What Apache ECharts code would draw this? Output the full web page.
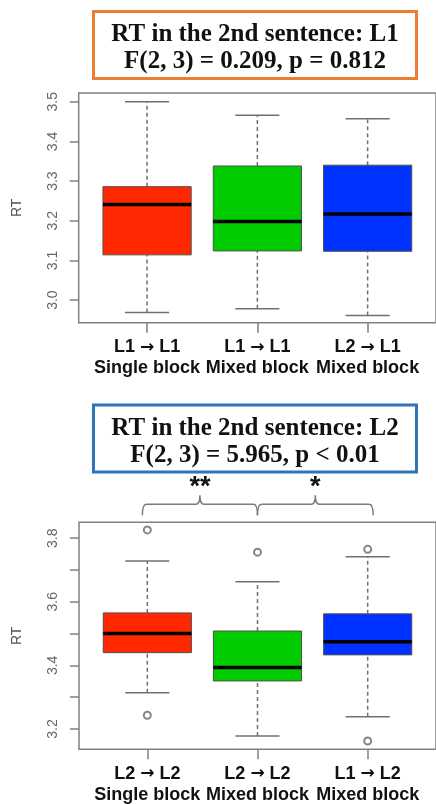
<!DOCTYPE html>
<html><head><meta charset="utf-8">
<script src="https://cdn.jsdelivr.net/npm/echarts@6/dist/echarts.min.js"></script>
<style>html,body{margin:0;padding:0;background:#fff}#c{width:436px;height:804px}</style>
</head><body><div id="c"></div>
<script>
// ---- data ----
const topFrom = ["L1", "L1", "L2"];
const topTo = ["L1", "L1", "L1"];
const botFrom = ["L2", "L2", "L1"];
const botTo = ["L2", "L2", "L2"];
const blocks = ["Single block", "Mixed block", "Mixed block"];
// [min whisker, Q1, median, Q3, max whisker]
const topBoxes = [
  [2.969, 3.114, 3.241, 3.286, 3.500],
  [2.978, 3.124, 3.198, 3.338, 3.466],
  [2.961, 3.123, 3.217, 3.340, 3.457]
];
const botBoxes = [
  [3.314, 3.440, 3.500, 3.565, 3.728],
  [3.178, 3.351, 3.393, 3.508, 3.663],
  [3.238, 3.433, 3.474, 3.562, 3.742]
];
const botOutliers = [[1, 3.826], [1, 3.243], [2, 3.756], [3, 3.765], [3, 3.162]];
const topTicks = [3.0, 3.1, 3.2, 3.3, 3.4, 3.5];
const botTicks = [3.2, 3.3, 3.4, 3.5, 3.6, 3.7, 3.8];
const botTickLabels = [3.2, 3.4, 3.6, 3.8];
const boxColors = ["#FF2800", "#00CC00", "#0032FF"];
const titles = [
  ["RT in the 2nd sentence: L1", "F(2, 3) = 0.209, p = 0.812"],
  ["RT in the 2nd sentence: L2", "F(2, 3) = 5.965, p < 0.01"]
];
const sigStars = ["**", "*"];

// ---- chart ----
const chart = echarts.init(document.getElementById('c'));
const GRAY = '#808080';

function boxRender(params, api) {
  const x = api.value(0);
  const v = [api.value(1), api.value(2), api.value(3), api.value(4), api.value(5)];
  const c = v.map(y => api.coord([x, y]));
  const cx = c[0][0];
  const hw = api.size([0.4, 0])[0];
  const cw = hw / 2;
  const color = boxColors[params.dataIndex];
  return {
    type: 'group',
    children: [
      { type: 'line', shape: { x1: cx, y1: c[0][1], x2: cx, y2: c[1][1] },
        style: { stroke: '#707070', lineWidth: 1.5, lineDash: [4, 3] } },
      { type: 'line', shape: { x1: cx, y1: c[3][1], x2: cx, y2: c[4][1] },
        style: { stroke: '#707070', lineWidth: 1.5, lineDash: [4, 3] } },
      { type: 'line', shape: { x1: cx - cw, y1: c[0][1], x2: cx + cw, y2: c[0][1] },
        style: { stroke: '#707070', lineWidth: 1.5 } },
      { type: 'line', shape: { x1: cx - cw, y1: c[4][1], x2: cx + cw, y2: c[4][1] },
        style: { stroke: '#707070', lineWidth: 1.5 } },
      { type: 'rect', shape: { x: cx - hw, y: c[3][1], width: hw * 2, height: c[1][1] - c[3][1] },
        style: { fill: color, stroke: '#505050', lineWidth: 1 } },
      { type: 'line', shape: { x1: cx - hw, y1: c[2][1], x2: cx + hw, y2: c[2][1] },
        style: { stroke: '#000', lineWidth: 3.5 } }
    ]
  };
}

function bracketRender(params, api) {
  const cs = params.coordSys;
  const xa = api.coord([api.value(0), 3.5])[0];
  const xb = api.coord([api.value(1), 3.5])[0];
  const xm = (xa + xb) / 2;
  const yb = cs.y - 7, yh = cs.y - 18, yt = cs.y - 27;
  const r = 4;
  const path = `M${xa} ${yb} Q${xa} ${yh} ${xa + r} ${yh} L${xm - r} ${yh} Q${xm} ${yh} ${xm} ${yt} ` +
               `Q${xm} ${yh} ${xm + r} ${yh} L${xb - r} ${yh} Q${xb} ${yh} ${xb} ${yb}`;
  return {
    type: 'group',
    children: [
      { type: 'path', shape: { pathData: path }, style: { fill: 'none', stroke: '#7a7a7a', lineWidth: 1.5 } },
      { type: 'text', x: xm, y: yt - 8,
        style: { text: sigStars[params.dataIndex], fill: '#111', font: 'bold 27px "Liberation Sans", Arial', align: 'center', verticalAlign: 'middle' } }
    ]
  };
}

const labelRich = {
  a: { fontFamily: '"Liberation Sans", Arial', fontWeight: 'bold', fontSize: 18, color: '#111', lineHeight: 21 },
  r: { fontFamily: '"DejaVu Sans"', fontWeight: 'bold', fontSize: 17, color: '#111', lineHeight: 21 }
};
function xAxisCfg(gi, from, to) {
  return {
    type: 'value', gridIndex: gi, min: 0.38, max: 3.62,
    axisLine: { show: false }, splitLine: { show: false },
    axisTick: { show: true, customValues: [1, 2, 3], length: 10, lineStyle: { color: GRAY, width: 1.5 } },
    axisLabel: { customValues: [1, 2, 3], margin: 14, color: '#111', rich: labelRich,
      formatter: v => { const i = Math.round(v) - 1;
        return '{a|' + from[i] + ' }{r|\u2192}{a| ' + to[i] + '}\n{a|' + blocks[i] + '}'; } }
  };
}
function yAxisCfg(gi, min, max, ticks, labels) {
  return {
    type: 'value', gridIndex: gi, min: min, max: max,
    name: 'RT', nameLocation: 'middle', nameGap: 55, nameRotate: 90,
    nameTextStyle: { color: '#555', fontSize: 14, fontFamily: '"Liberation Sans", Arial' },
    axisLine: { show: false }, splitLine: { show: false },
    axisTick: { show: true, customValues: ticks, length: 9, lineStyle: { color: GRAY, width: 1.5 } },
    axisLabel: { customValues: labels, rotate: 90, margin: 19, color: '#666', fontSize: 14,
      fontFamily: '"Liberation Sans", Arial', formatter: v => v.toFixed(1) }
  };
}

function titleBox(i, top, color) {
  return {
    type: 'group', left: 92, top: top,
    children: [
      { type: 'rect', shape: { x: 0, y: 0, width: 323, height: 67 },
        style: { fill: '#fff', stroke: color, lineWidth: 3 } },
      { type: 'text', x: 161.5, y: 23.5, style: { text: titles[i][0], fill: '#111',
        font: 'bold 25px "Liberation Serif", "Times New Roman", serif', align: 'center', verticalAlign: 'middle' } },
      { type: 'text', x: 161.5, y: 50.5, style: { text: titles[i][1], fill: '#111',
        font: 'bold 25px "Liberation Serif", "Times New Roman", serif', align: 'center', verticalAlign: 'middle' } }
    ]
  };
}

chart.setOption({
  animation: false,
  grid: [
    { left: 78.7, top: 93, width: 360, height: 229.7, show: true, borderColor: GRAY, borderWidth: 1.5 },
    { left: 79, top: 522.3, width: 362.7, height: 227, show: true, borderColor: GRAY, borderWidth: 1.5 }
  ],
  xAxis: [xAxisCfg(0, topFrom, topTo), xAxisCfg(1, botFrom, botTo)],
  yAxis: [yAxisCfg(0, 2.943, 3.522, topTicks, topTicks), yAxisCfg(1, 3.136, 3.85, botTicks, botTickLabels)],
  graphic: [titleBox(0, 10, '#EC7D31'), titleBox(1, 403.5, '#2E75B6')],
  series: [
    { type: 'custom', xAxisIndex: 0, yAxisIndex: 0, renderItem: boxRender,
      encode: { x: 0, y: [1, 2, 3, 4, 5] },
      data: topBoxes.map((b, i) => [i + 1].concat(b)) },
    { type: 'custom', xAxisIndex: 1, yAxisIndex: 1, renderItem: boxRender,
      encode: { x: 0, y: [1, 2, 3, 4, 5] },
      data: botBoxes.map((b, i) => [i + 1].concat(b)) },
    { type: 'scatter', xAxisIndex: 1, yAxisIndex: 1, symbol: 'emptyCircle', symbolSize: 7, z: 5,
      itemStyle: { color: '#666', borderColor: '#666', borderWidth: 1.3 }, data: botOutliers },
    { type: 'custom', xAxisIndex: 1, yAxisIndex: 1, renderItem: bracketRender, clip: false,
      encode: { x: [0, 1] },
      data: [[0.955, 2.0], [2.0, 3.05]] }
  ]
});
</script></body></html>
